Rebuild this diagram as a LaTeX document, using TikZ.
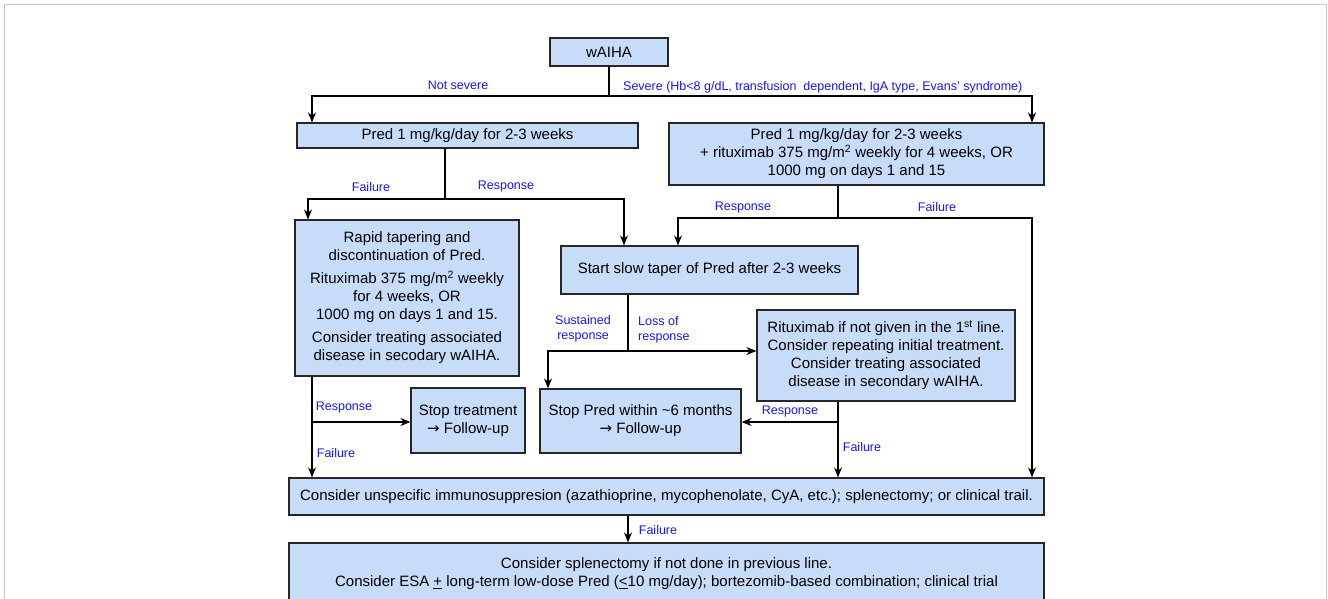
\documentclass[tikz,border=0pt]{standalone}
\usepackage{fontspec}
\setmainfont{Liberation Sans}
\newfontfamily\arrowfont{DejaVu Sans}
\usetikzlibrary{arrows.meta, positioning}

\definecolor{boxblue}{RGB}{198,220,248}
\definecolor{lblblue}{RGB}{25,25,225}

\begin{document}
\begin{tikzpicture}[x=1pt, y=-1pt,
    box/.style={draw=black!85, fill=boxblue, line width=1.2pt, rectangle, inner sep=0pt, align=center, font=\fontsize{15}{18}\selectfont},
    lbl/.style={text=lblblue, inner sep=0pt, font=\fontsize{12.5}{15}\selectfont},
    ln/.style={line width=1.4pt},
    arr/.style={line width=1.4pt, -{Stealth[length=10pt,width=8pt]}}]

    \clip (0,0) rectangle (1328,598);
    \draw[black!22, line width=1pt] (4,4) rectangle (1326,640);

    % Nodes
    \node[box, minimum width=118, minimum height=28] (waiha) at (609,52) {wAIHA};
    \node[box, minimum width=341, minimum height=25] (pred) at (467.5,135.5) {Pred 1 mg/kg/day for 2-3 weeks};
    \node[box, minimum width=375, minimum height=62] (predrtx) at (856.5,154)
        {Pred 1 mg/kg/day for 2-3 weeks\\+ rituximab 375 mg/m\textsuperscript{2} weekly for 4 weeks, OR\\1000 mg on days 1 and 15};
    \node[box, minimum width=224, minimum height=156] (rapid) at (407,298)
        {Rapid tapering and\\discontinuation of Pred.\\[5pt]Rituximab 375 mg/m\textsuperscript{2} weekly\\for 4 weeks, OR\\1000 mg on days 1 and 15.\\[5pt]Consider treating associated\\disease in secodary wAIHA.};
    \node[box, minimum width=297, minimum height=48] (slow) at (709.5,270) {Start slow taper of Pred after 2-3 weeks};
    \node[box, minimum width=258, minimum height=91] (rtx) at (886,355.5)
        {Rituximab if not given in the 1\textsuperscript{st} line.\\Consider repeating initial treatment.\\Consider treating associated\\disease in secondary wAIHA.};
    \node[box, minimum width=114, minimum height=65] (stoptr) at (468,420.5) {Stop treatment\\{\arrowfont →} Follow-up};
    \node[box, minimum width=201, minimum height=64] (stoppred) at (640.5,421) {Stop Pred within \textasciitilde6 months\\{\arrowfont →} Follow-up};
    \node[box, minimum width=755, minimum height=37] (immuno) at (666.5,496.5)
        {Consider unspecific immunosuppresion (azathioprine, mycophenolate, CyA, etc.); splenectomy; or clinical trail.};
    \node[box, minimum width=755, minimum height=62] (splen) at (666.5,574)
        {Consider splenectomy if not done in previous line.\\Consider ESA \underline{+} long-term low-dose Pred (\underline{<}10 mg/day); bortezomib-based combination; clinical trial};

    % Branch points
    \coordinate (s0) at (609,96);
    \coordinate (s1) at (445,199);
    \coordinate (s2) at (838,218);
    \coordinate (s3) at (628,351);
    \coordinate (s4) at (312,422);
    \coordinate (s5) at (838,422);

    % Labels
    \node[lbl] (notsev) at (458,85) {Not severe};
    \node[lbl, anchor=west] (sev) at (623,87) {Severe (Hb<8 g/dL, transfusion\ \ dependent, IgA type, Evans' syndrome)};
    \node[lbl] (fail1) at (371,187) {Failure};
    \node[lbl] (resp1) at (506,186) {Response};
    \node[lbl] (resp2) at (743,207) {Response};
    \node[lbl] (fail2) at (937,207) {Failure};
    \node[lbl, align=center] (sust) at (583,329) {Sustained\\response};
    \node[lbl, align=left, anchor=west] (loss) at (638,330) {Loss of\\response};
    \node[lbl] (resp3) at (344,407) {Response};
    \node[lbl] (fail3) at (336,453) {Failure};
    \node[lbl] (resp4) at (790,411) {Response};
    \node[lbl] (fail4) at (862,447) {Failure};
    \node[lbl] (fail5) at (658,530) {Failure};

    % Arrows
    \draw[ln] (waiha.south) -- (s0);
    \draw[arr] (s0) -| (312,0 |- pred.north);
    \draw[arr] (s0) -| (1032,0 |- predrtx.north);

    \draw[ln] (pred.south -| s1) -- (s1);
    \draw[arr] (s1) -| (308,0 |- rapid.north);
    \draw[arr] (s1) -| (624,0 |- slow.north);

    \draw[ln] (predrtx.south -| s2) -- (s2);
    \draw[arr] (s2) -| (678,0 |- slow.north);
    \draw[arr] (s2) -| (1032,0 |- immuno.north);

    \draw[ln] (slow.south -| s3) -- (s3);
    \draw[arr] (s3) -| (548,0 |- stoppred.north);
    \draw[arr] (s3) -- (s3 -| rtx.west);

    \draw[arr] (rapid.south -| s4) -- (s4 |- immuno.north);
    \draw[arr] (s4) -- (stoptr.west |- s4);

    \draw[arr] (rtx.south -| s5) -- (s5 |- immuno.north);
    \draw[arr] (s5) -- (stoppred.east |- s5);

    \draw[arr] (immuno.south -| 628,0) -- (628,0 |- splen.north);

\end{tikzpicture}
\end{document}
